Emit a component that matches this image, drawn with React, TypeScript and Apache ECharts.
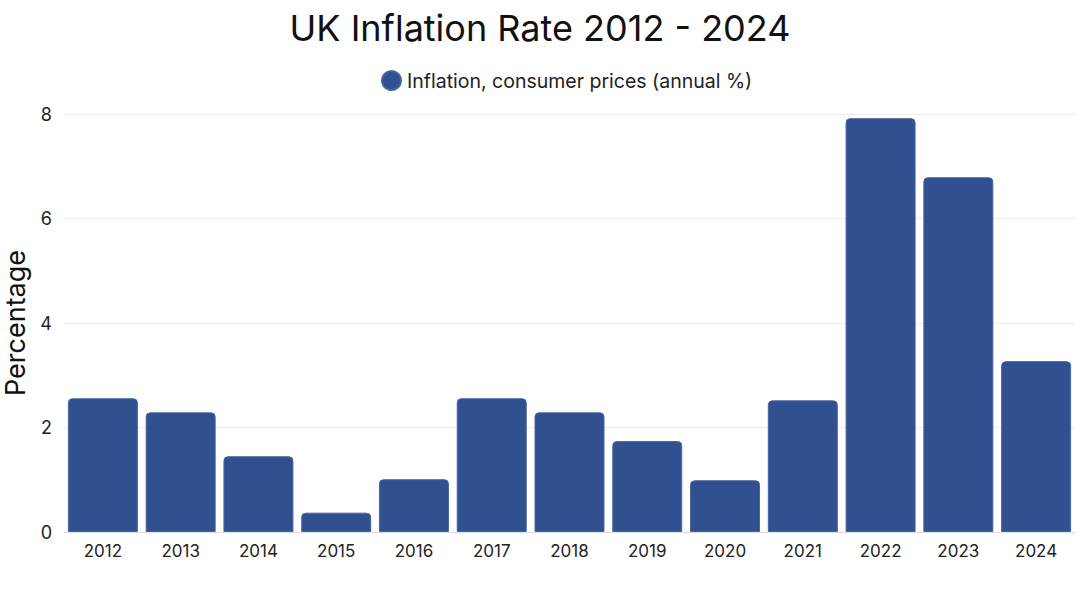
import { useEffect, useRef } from "react";
import * as echarts from "echarts";

const years = ["2012", "2013", "2014", "2015", "2016", "2017", "2018", "2019", "2020", "2021", "2022", "2023", "2024"];
const inflation = [2.56, 2.29, 1.45, 0.37, 1.01, 2.56, 2.29, 1.74, 0.99, 2.52, 7.92, 6.79, 3.27];
const yTicks = [0, 2, 4, 6, 8];

const FONT = "Inter, 'Noto Sans', sans-serif";

export default function App() {
  const ref = useRef<HTMLDivElement>(null);

  useEffect(() => {
    if (!ref.current) return;
    const chart = echarts.init(ref.current, null, { renderer: "svg" });
    chart.setOption({
      animation: false,
      backgroundColor: "#ffffff",
      textStyle: { fontFamily: FONT },
      title: {
        text: "UK Inflation Rate 2012 - 2024",
        left: "center",
        top: 5,
        textStyle: { fontFamily: FONT, fontSize: 36, fontWeight: "normal", color: "#111" },
      },
      legend: {
        top: 65,
        left: 376,
        icon: "circle",
        itemWidth: 19,
        itemHeight: 19,
        textStyle: { fontFamily: FONT, fontSize: 19.5, color: "#222", padding: [0, 0, 0, 1] },
        data: ["Inflation, consumer prices (annual %)"],
      },
      grid: { left: 64, right: 5, top: 114, bottom: 75, outerBoundsMode: "none", containLabel: false },
      xAxis: {
        type: "category",
        data: years,
        axisLine: { lineStyle: { color: "#d8dce6" } },
        axisTick: { show: false },
        axisLabel: { color: "#222", fontSize: 17, fontFamily: FONT, margin: 10 },
      },
      yAxis: {
        type: "value",
        min: yTicks[0],
        max: yTicks[yTicks.length - 1],
        interval: 2,
        name: "Percentage",
        nameLocation: "middle",
        nameGap: 32,
        nameTextStyle: { fontSize: 27, color: "#111", fontFamily: FONT },
        axisLine: { show: false },
        axisTick: { show: false },
        axisLabel: { color: "#222", fontSize: 18, fontFamily: FONT, margin: 12 },
        splitLine: { lineStyle: { color: "#ececec" } },
      },
      series: [
        {
          name: "Inflation, consumer prices (annual %)",
          type: "bar",
          data: inflation,
          barCategoryGap: "10%",
          itemStyle: {
            color: "#30508f",
            borderColor: "#4864a3",
            borderWidth: 1,
            borderRadius: [4, 4, 0, 0],
          },
        },
      ],
    });
    return () => chart.dispose();
  }, []);

  return (
    <div
      ref={ref}
      style={{ position: "absolute", left: 0, top: 0, width: 1080, height: 607 }}
    />
  );
}
